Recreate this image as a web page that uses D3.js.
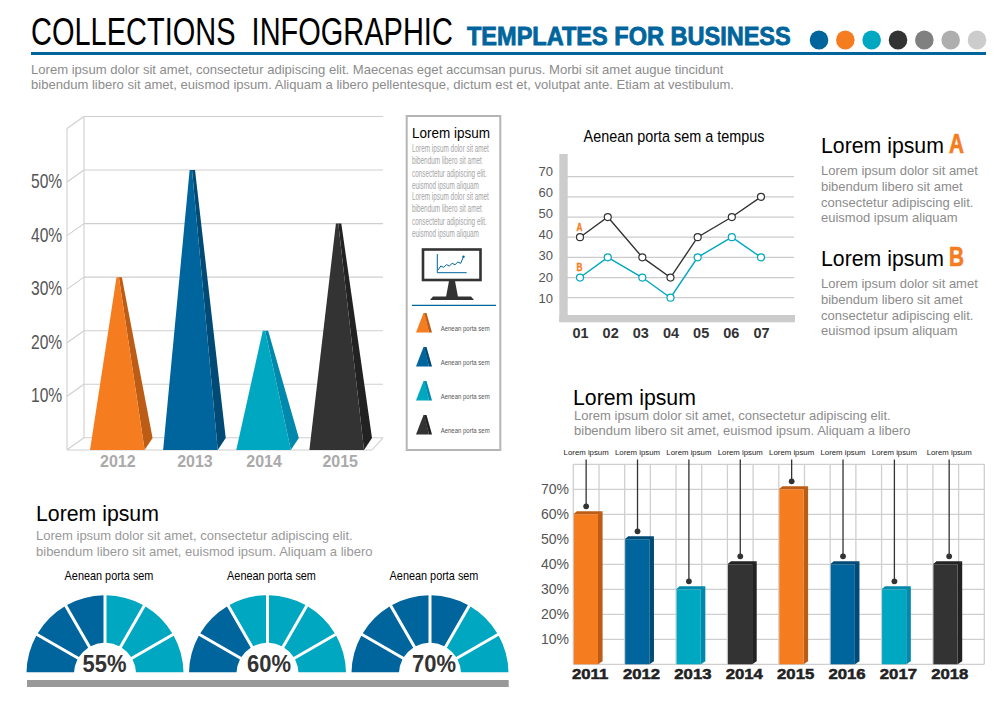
<!DOCTYPE html>
<html>
<head>
<meta charset="utf-8">
<script src="https://cdn.jsdelivr.net/npm/d3@7"></script>
<style>
  html, body { margin: 0; padding: 0; background: #fff; }
  svg { display: block; }
  text { font-family: "Liberation Sans", Arial, sans-serif; white-space: pre; }
  .axis path, .axis line { display: none; }
</style>
</head>
<body>
<svg id="chart" width="1000" height="707"></svg>
<script>
const orange = '#F57C1F', blue = '#00659C', teal = '#00A7C0', dark = '#333333';
const sideColors = { [orange]: '#BD5D15', [blue]: '#004A75', [teal]: '#0088AD', [dark]: '#222222' };
const gridGrey = '#cfcfcf';

const headerDots = [blue, orange, teal, dark, '#808080', '#aeaeae', '#cccccc'];

const pyramidYears = ['2012', '2013', '2014', '2015'];
const pyramidValues = [30, 50, 20, 40];
const pyramidColors = [orange, blue, teal, dark];
const pyramidTicks = [10, 20, 30, 40, 50];

const lineMonths = ['01', '02', '03', '04', '05', '06', '07'];
const lineSeriesA = [40, 50, 30, 20, 40, 50, 60];
const lineSeriesB = [20, 30, 20, 10, 30, 40, 30];
const lineTicks = [10, 20, 30, 40, 50, 60, 70];

const barYears = ['2011', '2012', '2013', '2014', '2015', '2016', '2017', '2018'];
const barValues = [60, 50, 30, 40, 70, 40, 30, 40];
const barColors = [orange, blue, teal, dark, orange, blue, teal, dark];
const barTicks = [10, 20, 30, 40, 50, 60, 70];

const gaugeValues = [55, 60, 70];
const gaugeBlueSegments = [3, 2, 4];
const gaugeSegments = [1, 1, 1, 1, 1, 1];

const monitorLine = [2, 5, 4, 6, 5, 7, 6, 8, 7, 12];

const svg = d3.select('#chart');

// len squeezes the text horizontally to that many pixels, the originals use condensed type
const addText = (x, y, str, o = {}) => {
  const t = svg.append('text')
    .attr('font-size', o.size || 12)
    .attr('fill', o.fill || '#000')
    .attr('text-anchor', o.anchor || 'start')
    .text(str);
  if (o.weight) t.attr('font-weight', o.weight);
  if (o.stroke) t.attr('stroke', o.fill).attr('stroke-width', o.stroke);
  const sx = o.len ? o.len / t.node().getComputedTextLength() : 1;
  t.attr('transform', `translate(${x},${y}) scale(${sx},1)`);
  return t;
};
const poly = (pts, fill) => svg.append('polygon').attr('points', pts.map((p) => p.join(',')).join(' ')).attr('fill', fill);
const rule = (x1, y1, x2, y2, color, w) => svg.append('line')
  .attr('x1', x1).attr('y1', y1).attr('x2', x2).attr('y2', y2)
  .attr('stroke', color).attr('stroke-width', w);

// header
addText(31, 45, 'COLLECTIONS  INFOGRAPHIC', { size: 38, len: 422 });
addText(467, 45, 'TEMPLATES FOR BUSINESS', { size: 25, weight: 'bold', fill: blue, len: 324, stroke: 0.8 });
const dotX = d3.scalePoint().domain(d3.range(headerDots.length)).range([819, 977]);
svg.selectAll('.head-dot').data(headerDots).enter().append('ellipse')
  .attr('cx', (d, i) => dotX(i)).attr('cy', 40).attr('rx', 9.3).attr('ry', 9.6).attr('fill', (d) => d);
rule(31, 53.5, 986, 53.5, blue, 3.2);
addText(31, 74, 'Lorem ipsum dolor sit amet, consectetur adipiscing elit. Maecenas eget accumsan purus. Morbi sit amet augue tincidunt', { size: 13, fill: '#8c8c8c', len: 693 });
addText(31, 89, 'bibendum libero sit amet, euismod ipsum. Aliquam a libero pellentesque, dictum est et, volutpat ante. Etiam at vestibulum.', { size: 13, fill: '#8c8c8c', len: 704 });

// pyramid chart
const pyrY = d3.scaleLinear().domain([0, 60]).range([437.8, 116.5]);
const pyrX = d3.scalePoint().domain(pyramidYears).range([117.3, 336.7]);
const pyrLabelShift = [0, 4, 0, 3];
const wallBack = 84, wallFront = 67, wallRight = 383, baseY = 450, depth = 12;
[0, 60].concat(pyramidTicks).forEach((v) => {
  rule(wallBack, pyrY(v), wallRight, pyrY(v), gridGrey, 1.1);
  rule(wallBack, pyrY(v), wallFront, pyrY(v) + depth, gridGrey, 1.1);
});
rule(wallBack, pyrY(60), wallBack, pyrY(0), gridGrey, 1.1);
rule(wallFront, pyrY(60) + depth, wallFront, baseY, gridGrey, 1.1);
rule(wallFront, baseY, 372, baseY, gridGrey, 1.1);
rule(wallRight, pyrY(0), 372, baseY, gridGrey, 1.1);
pyramidYears.forEach((yr, i) => {
  const cx = pyrX(yr), top = pyrY(pyramidValues[i]), half = 27.3;
  poly([[cx + 1.6, top], [cx + 4.6, top], [cx + half + 8, baseY - depth], [cx + half, baseY]], sideColors[pyramidColors[i]]);
  poly([[cx - half, baseY], [cx + half, baseY], [cx + 1.6, top], [cx - 0.8, top]], pyramidColors[i]);
});
svg.append('g').attr('class', 'axis').attr('transform', 'translate(63,11)')
  .call(d3.axisLeft(pyrY).tickValues(pyramidTicks).tickSize(0).tickPadding(1).tickFormat((d) => d + '%'))
  .call((g) => g.selectAll('text').attr('font-size', 20).attr('fill', '#555').attr('transform', 'scale(0.78,1)'));
svg.append('g').attr('class', 'axis').attr('transform', 'translate(0,452)')
  .call(d3.axisBottom(pyrX).tickSize(0).tickPadding(4))
  .call((g) => g.selectAll('text').attr('font-size', 16).attr('font-weight', 'bold').attr('fill', '#aaaaaa')
    .attr('dx', (d, i) => pyrLabelShift[i]));

// side panel
svg.append('rect').attr('x', 406.7).attr('y', 116).attr('width', 93.6).attr('height', 334)
  .attr('fill', '#fff').attr('stroke', '#b5b5b5').attr('stroke-width', 2);
addText(412, 138, 'Lorem ipsum', { size: 14.5, len: 78 });
const panelLines = ['Lorem ipsum dolor sit amet', 'bibendum libero sit amet', 'consectetur adipiscing elit.', 'euismod ipsum aliquam'];
const panelLens = [77, 70, 75, 67];
[0, 48].forEach((off) => panelLines.forEach((l, i) => {
  addText(412, 152 + off + i * 12.4, l, { size: 10.5, fill: '#a5a5a5', len: panelLens[i] });
}));
svg.append('rect').attr('x', 423).attr('y', 249.5).attr('width', 57.5).attr('height', 30.5)
  .attr('fill', '#fff').attr('stroke', dark).attr('stroke-width', 2.6);
poly([[449, 281], [455, 281], [458, 297], [446, 297]], dark);
poly([[433, 296.5], [471, 296.5], [474, 300], [430, 300]], dark);
const monX = d3.scaleLinear().domain([0, monitorLine.length - 1]).range([438, 463.5]);
const monY = d3.scaleLinear().domain([0, 14]).range([272.7, 254]);
svg.append('path').attr('d', `M437.3,254V272.7H466.7`).attr('fill', 'none').attr('stroke', blue).attr('stroke-width', 1);
svg.append('path').datum(monitorLine)
  .attr('d', d3.line().x((d, i) => monX(i)).y((d) => monY(d)))
  .attr('fill', 'none').attr('stroke', blue).attr('stroke-width', 1);
svg.append('circle').attr('cx', monX(monitorLine.length - 1)).attr('cy', monY(12)).attr('r', 1.2).attr('fill', blue);
rule(412, 305.3, 496, 305.3, blue, 1.2);
pyramidColors.forEach((c, i) => {
  const top = 313 + i * 34;
  poly([[424, top], [426.5, top], [432, top + 19.5], [429, top + 19.5]], sideColors[c]);
  poly([[416, top + 19.5], [429, top + 19.5], [424.5, top], [423.5, top]], c);
  addText(440.7, top + 18, 'Aenean porta sem', { size: 6.6, fill: '#555', len: 49 });
});

// line chart
const lineY = d3.scaleLinear().domain([10, 70]).range([297.7, 176.7]);
const lineLabelY = d3.scaleLinear().domain([10, 70]).range([298, 171]);
const lineX = d3.scalePoint().domain(lineMonths).range([580, 761]);
const linePointShift = [0, -2.4, 2, 0, -3, 1, 0];
addText(674, 142, 'Aenean porta sem a tempus', { size: 17, anchor: 'middle', len: 181 });
lineTicks.forEach((v) => rule(567, lineY(v), 794, lineY(v), '#cccccc', 1.2));
svg.append('rect').attr('x', 559.3).attr('y', 154).attr('width', 8.4).attr('height', 168).attr('fill', '#cccccc');
svg.append('rect').attr('x', 559.3).attr('y', 315).attr('width', 235.7).attr('height', 7.3).attr('fill', '#cccccc');
svg.append('g').attr('class', 'axis').attr('transform', 'translate(553,0)')
  .call(d3.axisLeft(lineLabelY).tickValues(lineTicks).tickSize(0).tickPadding(0))
  .call((g) => g.selectAll('text').attr('font-size', 13).attr('fill', '#555'));
svg.append('g').attr('class', 'axis').attr('transform', 'translate(0,325)')
  .call(d3.axisBottom(lineX).tickSize(0).tickPadding(3))
  .call((g) => g.selectAll('text').attr('font-size', 14.5).attr('font-weight', 'bold').attr('fill', '#333'));
[[lineSeriesA, '#333333'], [lineSeriesB, teal]].forEach(([vals, color]) => {
  const px = (i) => lineX(lineMonths[i]) + linePointShift[i];
  svg.append('path').datum(vals)
    .attr('d', d3.line().x((d, i) => px(i)).y((d) => lineY(d)))
    .attr('fill', 'none').attr('stroke', color).attr('stroke-width', 1.4);
  svg.selectAll(null).data(vals).enter().append('circle')
    .attr('cx', (d, i) => px(i)).attr('cy', (d) => lineY(d)).attr('r', 3.5)
    .attr('fill', '#fff').attr('stroke', color).attr('stroke-width', 1.2);
});
addText(579.5, 231, 'A', { size: 11.5, weight: 'bold', fill: orange, anchor: 'middle', len: 6, stroke: 0.3 });
addText(579.5, 271, 'B', { size: 11.5, weight: 'bold', fill: orange, anchor: 'middle', len: 6, stroke: 0.3 });

// right text blocks
const blockLines = ['Lorem ipsum dolor sit amet', 'bibendum libero sit amet', 'consectetur adipiscing elit.', 'euismod ipsum aliquam'];
[[153, 'A', 175], [266, 'B', 288]].forEach(([y, letter, bodyY]) => {
  addText(821, y, 'Lorem ipsum', { size: 22, len: 123 });
  addText(956.5, y, letter, { size: 28, weight: 'bold', fill: orange, anchor: 'middle', len: 15, stroke: 0.7 });
  blockLines.forEach((l, i) => addText(821, bodyY + i * 15.8, l, { size: 13, fill: '#8c8c8c' }));
});

// bar chart
const barY = d3.scaleLinear().domain([0, 80]).range([664.3, 464.3]);
const barX = d3.scaleBand().domain(barYears).range([573.3, 984.3]);
const cell = barX.step() / 2;
d3.range(17).forEach((i) => rule(573.3 + i * cell, 464.3, 573.3 + i * cell, 664.3, gridGrey, 1.3));
d3.range(0, 81, 10).forEach((v) => rule(573.3, barY(v), 984.3, barY(v), gridGrey, 1.3));
const leaderShift = [0, 0, 0, 0, 0, 0, 0, 3.4];
barYears.forEach((yr, i) => {
  const x = barX(yr), y = barY(barValues[i]), c = barColors[i], sc = sideColors[c];
  poly([[x + cell - 1, y], [x + cell + 3.6, y - 3], [x + cell + 3.6, barY(0) - 3], [x + cell - 1, barY(0)]], sc);
  poly([[x, y], [x + cell, y], [x + cell + 3.6, y - 3], [x + 3.6, y - 3]], sc);
  svg.append('rect').attr('x', x + 0.5).attr('y', y).attr('width', cell - 1.5).attr('height', barY(0) - y).attr('fill', c);
  const lx = x + cell / 2 + leaderShift[i];
  rule(lx, 459.5, lx, y - 8, dark, 1.3);
  svg.append('circle').attr('cx', lx).attr('cy', y - 8).attr('r', 2.9).attr('fill', dark);
  addText(lx, 454.5, 'Lorem ipsum', { size: 7.8, fill: '#222', anchor: 'middle' });
});
svg.append('g').attr('class', 'axis').attr('transform', 'translate(569,0)')
  .call(d3.axisLeft(barY).tickValues(barTicks).tickSize(0).tickPadding(0).tickFormat((d) => d + '%'))
  .call((g) => g.selectAll('text').attr('font-size', 14).attr('fill', '#555'));
svg.append('g').attr('class', 'axis').attr('transform', `translate(${4 - cell / 2},666)`)
  .call(d3.axisBottom(barX).tickSize(0).tickPadding(2))
  .call((g) => g.selectAll('text').attr('font-size', 15.5).attr('font-weight', 'bold').attr('fill', '#222')
    .attr('stroke', '#222').attr('stroke-width', 0.5).attr('transform', 'scale(1.08,1)'));

addText(573, 405, 'Lorem ipsum', { size: 22, len: 123 });
addText(574, 420, 'Lorem ipsum dolor sit amet, consectetur adipiscing elit.', { size: 13, fill: '#8c8c8c', len: 317 });
addText(574, 435, 'bibendum libero sit amet, euismod ipsum. Aliquam a libero', { size: 13, fill: '#8c8c8c', len: 337 });

// gauges
addText(36, 521, 'Lorem ipsum', { size: 22, len: 123 });
addText(36, 540, 'Lorem ipsum dolor sit amet, consectetur adipiscing elit.', { size: 13, fill: '#999', len: 317 });
addText(36, 556, 'bibendum libero sit amet, euismod ipsum. Aliquam a libero', { size: 13, fill: '#999', len: 337 });
const gaugeX = d3.scalePoint().domain(gaugeValues).range([105, 430]);
const gaugeY = 673.7;
const pctShift = [-0.5, 1.5, 4];
const pie = d3.pie().sort(null).startAngle(-Math.PI / 2).endAngle(Math.PI / 2);
const arc = d3.arc().innerRadius(31).outerRadius(78.5).padAngle(3 / 78).padRadius(78);
gaugeValues.forEach((v, g) => {
  const cx = gaugeX(v);
  addText(cx + 4, 580, 'Aenean porta sem', { size: 12, anchor: 'middle', len: 89 });
  svg.append('g').attr('transform', `translate(${cx},${gaugeY})`)
    .selectAll('path').data(pie(gaugeSegments)).enter().append('path')
    .attr('d', arc)
    .attr('fill', (d, i) => (i < gaugeBlueSegments[g] ? blue : teal));
  addText(cx + pctShift[g], 672, v + '%', { size: 23.5, weight: 'bold', fill: dark, anchor: 'middle', len: 44 });
});
svg.append('rect').attr('x', 27).attr('y', 680).attr('width', 481.7).attr('height', 7).attr('fill', '#999');
</script>
</body>
</html>
